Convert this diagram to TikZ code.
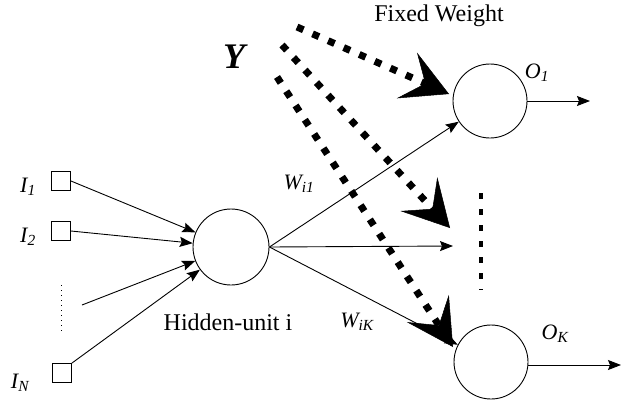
\documentclass[tikz,border=0pt]{standalone}
\usepackage{fontspec}
\setmainfont{Liberation Serif}
\usetikzlibrary{arrows.meta,calc}
\begin{document}
\begin{tikzpicture}[x=1pt,y=-1pt,
  neuron/.style={draw,circle,line width=0.9pt,inner sep=0pt},
  inbox/.style={draw,rectangle,line width=0.9pt,minimum size=19pt,inner sep=0pt},
  conn/.style={line width=0.9pt,-{Stealth[length=13pt,width=10pt,inset=2pt]}},
  fixeddots/.style={line width=7pt,dash pattern=on 7pt off 10pt,shorten >=26pt},
  fixedtip/.style={line width=0.5pt,-{Stealth[length=46pt,width=50pt,inset=20pt]}},
  lbl/.style={font=\fontsize{22}{24}\selectfont\itshape,inner sep=0pt},
  txt/.style={font=\fontsize{24}{26}\selectfont,inner sep=0pt}]
\useasboundingbox (0,0) rectangle (621,405);
% neurons
\node[neuron,minimum size=76pt] (h) at (231,247) {};
\node[neuron,minimum size=74pt] (o1) at (490,101) {};
\node[neuron,minimum size=74pt] (ok) at (491,362) {};
% inputs
\node[inbox] (i1) at (61,181) {};
\node[inbox] (i2) at (61,231) {};
\node[inbox] (in) at (62,373) {};
\node[lbl] at (28,187) {I\textsubscript{1}};
\node[lbl] at (28,237) {I\textsubscript{2}};
\node[lbl] at (20,383) {I\textsubscript{N}};
\coordinate (ix) at (82,305);
\draw[line width=0.8pt,dash pattern=on 1pt off 4pt] (61,285) -- (61,333);
% input connections
\draw[conn] (i1.east) -- (h);
\draw[conn] (i2.east) -- (h);
\draw[conn] (ix) -- (h);
\draw[conn] (in.north east) -- (h);
% outputs
\coordinate (m) at (453,246);
\draw[conn] (h.east) -- (o1);
\draw[conn] (h.east) -- (m);
\draw[conn] (h.east) -- (ok);
\coordinate (o1e) at (590,101);
\coordinate (oke) at (621,365);
\draw[conn] (o1) -- (o1e);
\draw[conn] (ok.east |- oke) -- (oke);
% vertical dots between outputs
\draw[line width=3.5pt,dash pattern=on 6pt off 10pt] (481,193) -- (481,290);
% fixed weights
\coordinate (y1) at (297,27);
\coordinate (y2) at (282,45);
\coordinate (y3) at (277,77);
\coordinate (t1) at (449,94);
\coordinate (t2) at (450,228);
\coordinate (t3) at (453,347);
\foreach \s/\t in {y1/t1,y2/t2,y3/t3}{
  \draw[fixeddots] (\s) -- (\t);
  \draw[fixedtip] ($(\t)!24pt!(\s)$) -- (\t);
}
% labels
\node[font=\fontsize{36}{38}\selectfont\bfseries\itshape,inner sep=0pt] at (234,57) {Y};
\node[txt] at (439,16) {Fixed Weight};
\node[txt] at (228,322) {Hidden-unit i};
\node[lbl] at (299,184) {W\textsubscript{i1}};
\node[lbl] at (357,322) {W\textsubscript{iK}};
\node[lbl] at (537,73) {O\textsubscript{1}};
\node[lbl] at (555,334) {O\textsubscript{K}};
\end{tikzpicture}
\end{document}
